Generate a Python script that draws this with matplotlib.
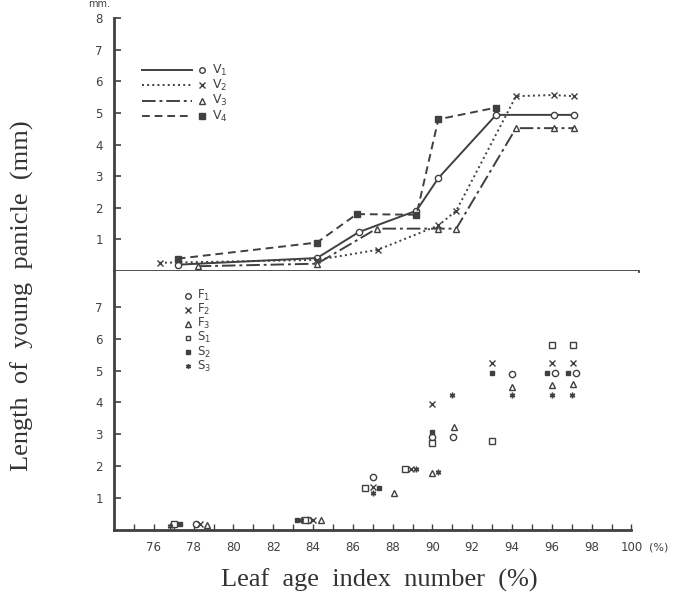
import matplotlib
matplotlib.use("Agg")
import matplotlib.pyplot as plt

# upper panel: varieties V1-V4 (leaf age index %, panicle length mm)
v1_x = [77.2, 84.2, 86.3, 89.2, 90.3, 93.2, 96.1, 97.1]
v1_y = [0.2, 0.41, 1.23, 1.91, 2.94, 4.94, 4.94, 4.94]
v2_x = [76.3, 84.2, 87.25, 90.3, 91.2, 94.2, 96.1, 97.1]
v2_y = [0.26, 0.35, 0.67, 1.44, 1.91, 5.53, 5.57, 5.53]
v3_x = [78.2, 84.2, 87.2, 90.3, 91.2, 94.2, 96.1, 97.1]
v3_y = [0.15, 0.23, 1.34, 1.34, 1.34, 4.52, 4.52, 4.52]
v4_x = [77.2, 84.2, 86.2, 89.2, 90.3, 93.2]
v4_y = [0.39, 0.9, 1.8, 1.78, 4.8, 5.17]

# lower panel: F1-F3, S1-S3
f1_x = [78.1, 83.75, 87.0, 90.0, 91.05, 94.0, 96.15, 97.2]
f1_y = [0.2, 0.3, 1.65, 2.9, 2.91, 4.89, 4.91, 4.91]
f2_x = [78.3, 84.0, 87.0, 88.9, 90.0, 93.0, 96.0, 97.05]
f2_y = [0.2, 0.3, 1.34, 1.9, 3.95, 5.25, 5.25, 5.23]
f3_x = [78.65, 84.4, 88.05, 90.0, 91.1, 94.0, 96.0, 97.05]
f3_y = [0.17, 0.3, 1.17, 1.78, 3.22, 4.49, 4.55, 4.58]
s1_x = [77.0, 83.6, 86.6, 88.6, 90.0, 93.0, 96.0, 97.05]
s1_y = [0.2, 0.3, 1.31, 1.9, 2.74, 2.79, 5.8, 5.8]
s2_x = [77.3, 83.2, 87.3, 90.0, 93.0, 95.75, 96.8]
s2_y = [0.18, 0.3, 1.33, 3.06, 4.93, 4.93, 4.93]
s3_x = [76.8, 83.4, 87.0, 89.2, 90.3, 91.0, 94.0, 96.0, 97.0]
s3_y = [0.12, 0.3, 1.15, 1.9, 1.83, 4.23, 4.23, 4.23, 4.23]

upper_ticks = [1, 2, 3, 4, 5, 6, 7, 8]
lower_ticks = [1, 2, 3, 4, 5, 6, 7]
x_major = list(range(76, 101, 2))
x_minor = list(range(75, 100, 2))

ink = "#404040"
tick_font = {"family": "DejaVu Sans", "size": 8.5, "color": ink}

fig = plt.figure(figsize=(6.84, 6.03), dpi=100)
ax_u = fig.add_axes([0.1667, 0.5506, 0.766, 0.4245])
ax_l = fig.add_axes([0.1667, 0.1211, 0.766, 0.4295])

xlim = (74, 100.33)

# ---- upper panel
lines = [
    (v1_x, v1_y, "-", "o", "white", "V$_1$"),
    (v2_x, v2_y, ":", "x", ink, "V$_2$"),
    (v3_x, v3_y, (0, (7, 2, 1.5, 2)), "^", "white", "V$_3$"),
    (v4_x, v4_y, (0, (4, 2.5)), "s", ink, "V$_4$"),
]
for x, y, ls, mk, fc, lab in lines:
    ax_u.plot(x, y, linestyle=ls, color=ink, lw=1.4, marker=mk, ms=4.5,
              mfc=fc, mec=ink, mew=1.0, clip_on=False)

# legend drawn by hand: line sample, marker, label
for i, (x, y, ls, mk, fc, lab) in enumerate(lines):
    yy = 0.785 - i * 0.06
    ax_u.plot([0.053, 0.149], [yy, yy], transform=ax_u.transAxes,
              linestyle=ls, color=ink, lw=1.4)
    ax_u.plot([0.168], [yy], transform=ax_u.transAxes, marker=mk, ms=4,
              mfc=fc, mec=ink, mew=1.0, linestyle="none")
    ax_u.text(0.187, yy, lab, transform=ax_u.transAxes, va="center",
              ha="left", fontsize=9, color=ink)

ax_u.set_xlim(*xlim)
ax_u.set_ylim(0, 8.1)
ax_u.spines["top"].set_visible(False)
ax_u.spines["right"].set_visible(False)
ax_u.spines["left"].set_bounds(0, 8)
for s in ("left", "bottom"):
    ax_u.spines[s].set_linewidth(2)
    ax_u.spines[s].set_color(ink)
ax_u.set_xticks([])
ax_u.set_yticks(upper_ticks)
ax_u.set_yticklabels([str(t) for t in upper_ticks], fontdict=tick_font)
ax_u.tick_params(axis="y", direction="in", length=5, width=1.2, color=ink, pad=8)
ax_u.text(-0.029, 1.022, "mm.", transform=ax_u.transAxes, ha="center",
          va="bottom", fontsize=7, color=ink)

# ---- lower panel
series = [
    (f1_x, f1_y, "o", "white", 4.5, "F$_1$"),
    (f2_x, f2_y, "x", ink, 5, "F$_2$"),
    (f3_x, f3_y, "^", "white", 4.5, "F$_3$"),
    (s1_x, s1_y, "s", "white", 4, "S$_1$"),
    (s2_x, s2_y, "s", ink, 3.5, "S$_2$"),
    (s3_x, s3_y, (6, 2, 0), ink, 4, "S$_3$"),
]
for x, y, mk, fc, ms, lab in series:
    ax_l.plot(x, y, linestyle="none", marker=mk, ms=ms, mfc=fc, mec=ink,
              mew=1.0, clip_on=False)

for i, (x, y, mk, fc, ms, lab) in enumerate(series):
    yy = 0.905 - i * 0.0545
    ax_l.plot([0.142], [yy], transform=ax_l.transAxes, marker=mk, ms=ms - 0.5,
              mfc=fc, mec=ink, mew=1.0, linestyle="none")
    ax_l.text(0.158, yy, lab, transform=ax_l.transAxes, va="center",
              ha="left", fontsize=8.5, color=ink)

ax_l.set_xlim(*xlim)
ax_l.set_ylim(0, 8.12)
ax_l.spines["top"].set_visible(False)
ax_l.spines["right"].set_visible(False)
ax_l.spines["bottom"].set_bounds(74, 100)
for s in ("left", "bottom"):
    ax_l.spines[s].set_linewidth(2)
    ax_l.spines[s].set_color(ink)
ax_l.set_yticks(lower_ticks)
ax_l.set_yticklabels([str(t) for t in lower_ticks], fontdict=tick_font)
ax_l.set_xticks(x_major)
ax_l.set_xticklabels([str(t) for t in x_major], fontdict=tick_font)
ax_l.set_xticks(x_minor, minor=True)
ax_l.tick_params(axis="y", direction="in", length=5, width=1.2, color=ink, pad=8)
ax_l.tick_params(axis="x", which="both", direction="in", length=4, width=1.0,
                 color=ink, pad=8)
ax_l.text(100.9, -0.047, "(%)", transform=ax_l.get_xaxis_transform(),
          ha="left", va="top", fontsize=8, color=ink)

fig.text(0.554, 0.038, "Leaf  age  index  number  (%)", ha="center",
         va="center", family="Liberation Serif", fontsize=19, color="#333333")
fig.text(0.032, 0.51, "Length  of  young  panicle  (mm)", ha="center",
         va="center", rotation=90, family="Liberation Serif", fontsize=19,
         color="#333333")

fig.savefig("out.png", dpi=100)
